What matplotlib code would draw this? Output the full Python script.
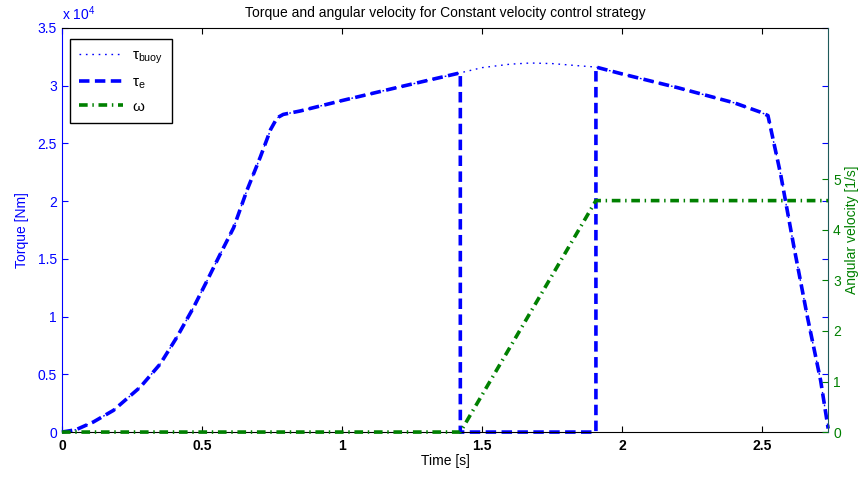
import numpy as np
import matplotlib
matplotlib.use('Agg')
import matplotlib.pyplot as plt
from matplotlib import ticker

plt.rcParams['font.family'] = ['Liberation Sans', 'DejaVu Sans']
plt.rcParams['mathtext.fontset'] = 'custom'
plt.rcParams['mathtext.rm'] = 'Liberation Sans'
plt.rcParams['mathtext.it'] = 'Liberation Sans'

# torque from the buoy [Nm]
t_buoy = [0, 0.05, 0.112, 0.184, 0.28, 0.351, 0.41, 0.47, 0.518, 0.565, 0.613,
          0.66, 0.708, 0.745, 0.768, 0.79, 0.851, 1.0, 1.2, 1.422, 1.5, 1.6,
          1.672, 1.75, 1.85, 1.906, 2.0, 2.2, 2.4, 2.493, 2.52, 2.565, 2.613,
          2.661, 2.708, 2.735]
tau_buoy = [0, 200, 870, 1880, 3900, 5900, 8200, 10800, 13100, 15400, 17700,
            20900, 23800, 26200, 27200, 27500, 27800, 28700, 29850, 31100, 31550, 31850,
            31950, 31900, 31700, 31600, 31000, 29800, 28500, 27700, 27400, 22350, 16000,
            9950, 4470, 300]

# electrical torque [Nm]
t_e = [0, 0.05, 0.112, 0.184, 0.28, 0.351, 0.41, 0.47, 0.518, 0.565, 0.613,
       0.66, 0.708, 0.745, 0.768, 0.79, 0.851, 1.0, 1.2, 1.422, 1.422, 1.906,
       1.906, 2.0, 2.2, 2.4, 2.493, 2.52, 2.565, 2.613, 2.661, 2.708, 2.735]
tau_e = [0, 200, 870, 1880, 3900, 5900, 8200, 10800, 13100, 15400, 17700,
         20900, 23800, 26200, 27200, 27500, 27800, 28700, 29850, 31100, 0, 0,
         31600, 31000, 29800, 28500, 27700, 27400, 22350, 16000, 9950, 4470, 300]

# angular velocity [1/s]
t_omega = [0, 1.422, 1.906, 2.735]
omega = [0, 0, 4.58, 4.58]

blue = (0, 0, 1)
green = (0, 0.5, 0)

fig = plt.figure(figsize=(8.6, 4.79), dpi=100)
ax = fig.add_axes([0.072, 0.098, 0.891, 0.844])
ax2 = ax.twinx()

l1, = ax.plot(t_buoy, tau_buoy, color=blue, lw=1.0, linestyle=(0, (1.2, 3.4)),
              label=r'$\tau_{buoy}$', clip_on=False)
l2, = ax.plot(t_e, tau_e, color=blue, lw=2.6, linestyle=(0, (2.9, 1.5)),
              label=r'$\tau_e$', clip_on=False)
l3, = ax2.plot(t_omega, omega, color=green, lw=2.6,
               linestyle=(0, (2.4, 1.3, 0.4, 1.3)), label=r'$\omega$', clip_on=False)

ax.set_xlim(0, 2.735)
ax.set_ylim(0, 35000)
ax2.set_ylim(0, 8)

ax.set_xticks([0, 0.5, 1, 1.5, 2, 2.5])
ax.xaxis.set_major_formatter(ticker.FormatStrFormatter('%g'))
ax.set_yticks(np.arange(0, 35001, 5000))
ax.yaxis.set_major_formatter(ticker.FuncFormatter(lambda v, p: '%g' % (v / 1e4)))
ax2.set_yticks([0, 1, 2, 3, 4, 5])

ax.tick_params(axis='x', direction='in', top=True, length=4, colors='black',
               labelsize=10, pad=5)
for lab in ax.get_xticklabels():
    lab.set_fontweight('bold')
ax.tick_params(axis='y', direction='in', right=True, length=4, colors=blue,
               labelsize=10)
ax2.tick_params(axis='y', direction='in', length=4, colors=green, labelsize=10)

ax.spines['left'].set_color(blue)
ax.spines['right'].set_visible(False)
for s in ['left', 'top', 'bottom']:
    ax2.spines[s].set_visible(False)
ax2.spines['right'].set_color('#1e5a5a')

ax.set_xlabel('Time [s]', fontsize=10, labelpad=1)
ax.set_ylabel('Torque [Nm]', color=blue, fontsize=10, labelpad=6)
ax2.set_ylabel('Angular velocity [1/s]', color=green, fontsize=10, labelpad=3)
ax.set_title('Torque and angular velocity for Constant velocity control strategy',
             fontsize=10, pad=8)
ax.text(0, 1.012, r'x 10$^{4}$', transform=ax.transAxes, color=blue,
        fontsize=10, ha='left', va='bottom')

leg = ax.legend(handles=[l1, l2, l3], loc='upper left', fontsize=11,
                handlelength=2.9, labelspacing=0.6, borderpad=0.6,
                handletextpad=0.6, fancybox=False, framealpha=1,
                edgecolor='black', bbox_to_anchor=(0.0, 0.99))
leg.get_frame().set_linewidth(1.0)
leg.set_zorder(10)

fig.savefig('out.png', dpi=100)
